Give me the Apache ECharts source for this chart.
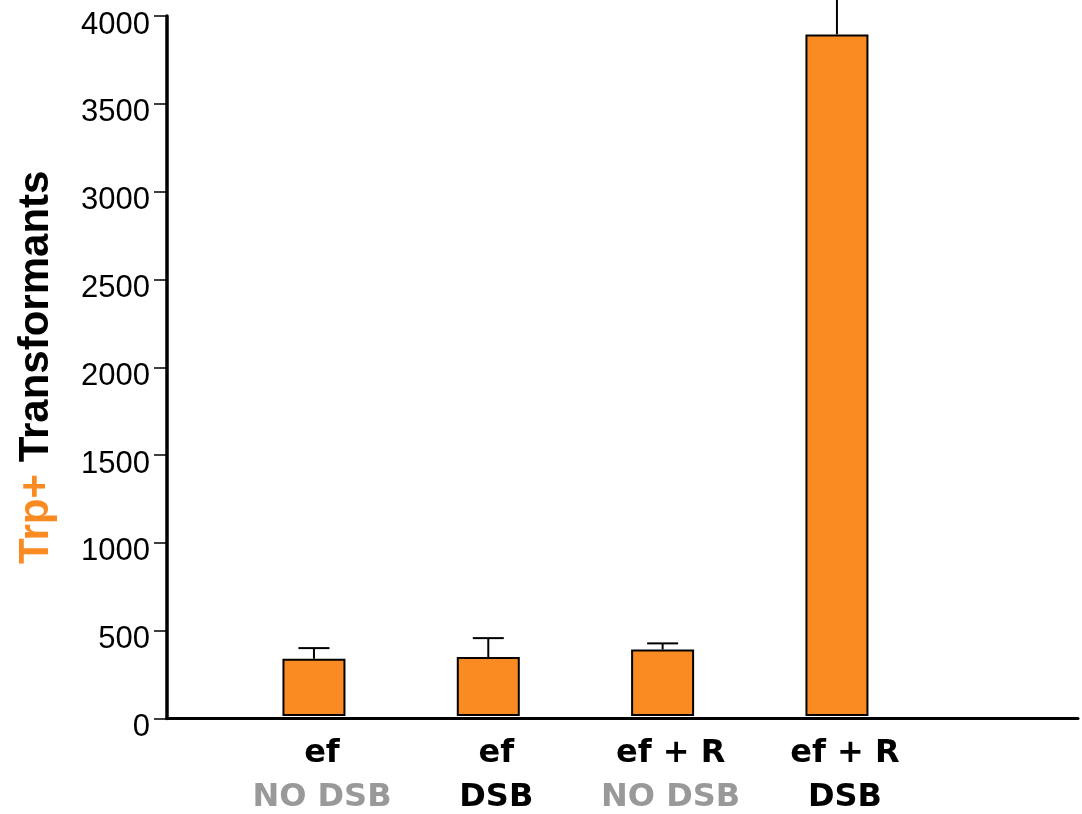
<!DOCTYPE html>
<html>
<head>
<meta charset="utf-8">
<script src="https://cdn.jsdelivr.net/npm/echarts@6/dist/echarts.min.js"></script>
<style>
html,body{margin:0;padding:0;background:#fff;}
#main{width:1082px;height:814px;}
</style>
</head>
<body>
<div id="main"></div>
<script>
// ---- data ----
const groupLabels = ['ef', 'ef', 'ef + R', 'ef + R'];
const conditionLabels = ['NO DSB', 'DSB', 'NO DSB', 'DSB'];
const transformants = [327, 337, 380, 3895];
const errorsUp = [61, 108, 35, 260];
const yTickLabels = ['0', '500', '1000', '1500', '2000', '2500', '3000', '3500', '4000'];

const ORANGE = '#F98B22';
const chart = echarts.init(document.getElementById('main'));

const gridTop = 16, gridBottom = 95.5;

chart.setOption({
  animation: false,
  backgroundColor: '#fff',
  grid: [
    { left: 167, right: 4, top: gridTop, bottom: gridBottom },
    { left: 226.8, width: 697.3, top: gridTop, bottom: gridBottom }
  ],
  xAxis: [
    {
      gridIndex: 0, type: 'value', min: 0, max: 1,
      axisLine: { show: true, lineStyle: { color: '#000', width: 3 } },
      axisTick: { show: false }, axisLabel: { show: false }, splitLine: { show: false }
    },
    {
      gridIndex: 1, type: 'category',
      data: groupLabels.map((g, i) => g + '|' + conditionLabels[i]),
      axisLine: { show: false }, axisTick: { show: false }, splitLine: { show: false },
      axisLabel: {
        margin: 16,
        interval: 0,
        padding: [0, 0, 0, 16],
        formatter: function (v, i) {
          const c = conditionLabels[i];
          return '{t|' + groupLabels[i] + '}\n{' + (c === 'NO DSB' ? 'g' : 'k') + '|' + c + '}';
        },
        rich: {
          t: { fontFamily: 'DejaVu Sans', fontWeight: 'bold', fontSize: 32, color: '#000', lineHeight: 44 },
          g: { fontFamily: 'DejaVu Sans', fontWeight: 'bold', fontSize: 32, color: '#999999', lineHeight: 44 },
          k: { fontFamily: 'DejaVu Sans', fontWeight: 'bold', fontSize: 32, color: '#000', lineHeight: 44 }
        }
      }
    }
  ],
  yAxis: [
    {
      gridIndex: 0, type: 'value', min: 0, max: 4000, interval: 500,
      axisLine: { show: true, lineStyle: { color: '#000', width: 3.5 } },
      axisTick: { show: true, length: 13, lineStyle: { color: '#000', width: 1.5 } },
      splitLine: { show: false },
      axisLabel: {
        margin: 17,
        verticalAlign: 'top',
        lineHeight: 18,
        fontFamily: 'Liberation Sans', fontSize: 31, color: '#000',
        formatter: function (v) { return yTickLabels[Math.round(v / 500)]; }
      },
      name: '{o|Trp+ }{b|Transformants}',
      nameLocation: 'middle',
      nameRotate: 90,
      nameGap: 110,
      nameTextStyle: {
        rich: {
          o: { fontFamily: 'Liberation Sans', fontWeight: 'bold', fontSize: 42, color: ORANGE },
          b: { fontFamily: 'Liberation Sans', fontWeight: 'bold', fontSize: 42, color: '#000' }
        }
      }
    },
    { gridIndex: 1, type: 'value', min: 0, max: 4000, show: false }
  ],
  series: [
    {
      type: 'bar',
      xAxisIndex: 1, yAxisIndex: 1,
      data: transformants,
      barWidth: 63,
      itemStyle: { color: ORANGE, borderColor: '#000', borderWidth: 2 },
      z: 2
    },
    {
      type: 'custom',
      xAxisIndex: 1, yAxisIndex: 1,
      clip: false,
      z: 1,
      data: transformants.map((v, i) => [i, v, errorsUp[i]]),
      encode: { x: 0, y: 1 },
      renderItem: function (params, api) {
        const base = api.coord([api.value(0), api.value(1)]);
        const tip = api.coord([api.value(0), api.value(1) + api.value(2)]);
        const st = { stroke: '#000', lineWidth: 2 };
        return {
          type: 'group',
          children: [
            { type: 'line', shape: { x1: base[0], y1: base[1], x2: tip[0], y2: tip[1] }, style: st },
            { type: 'line', shape: { x1: tip[0] - 15.5, y1: tip[1], x2: tip[0] + 15.5, y2: tip[1] }, style: st }
          ]
        };
      }
    }
  ]
});
</script>
</body>
</html>
